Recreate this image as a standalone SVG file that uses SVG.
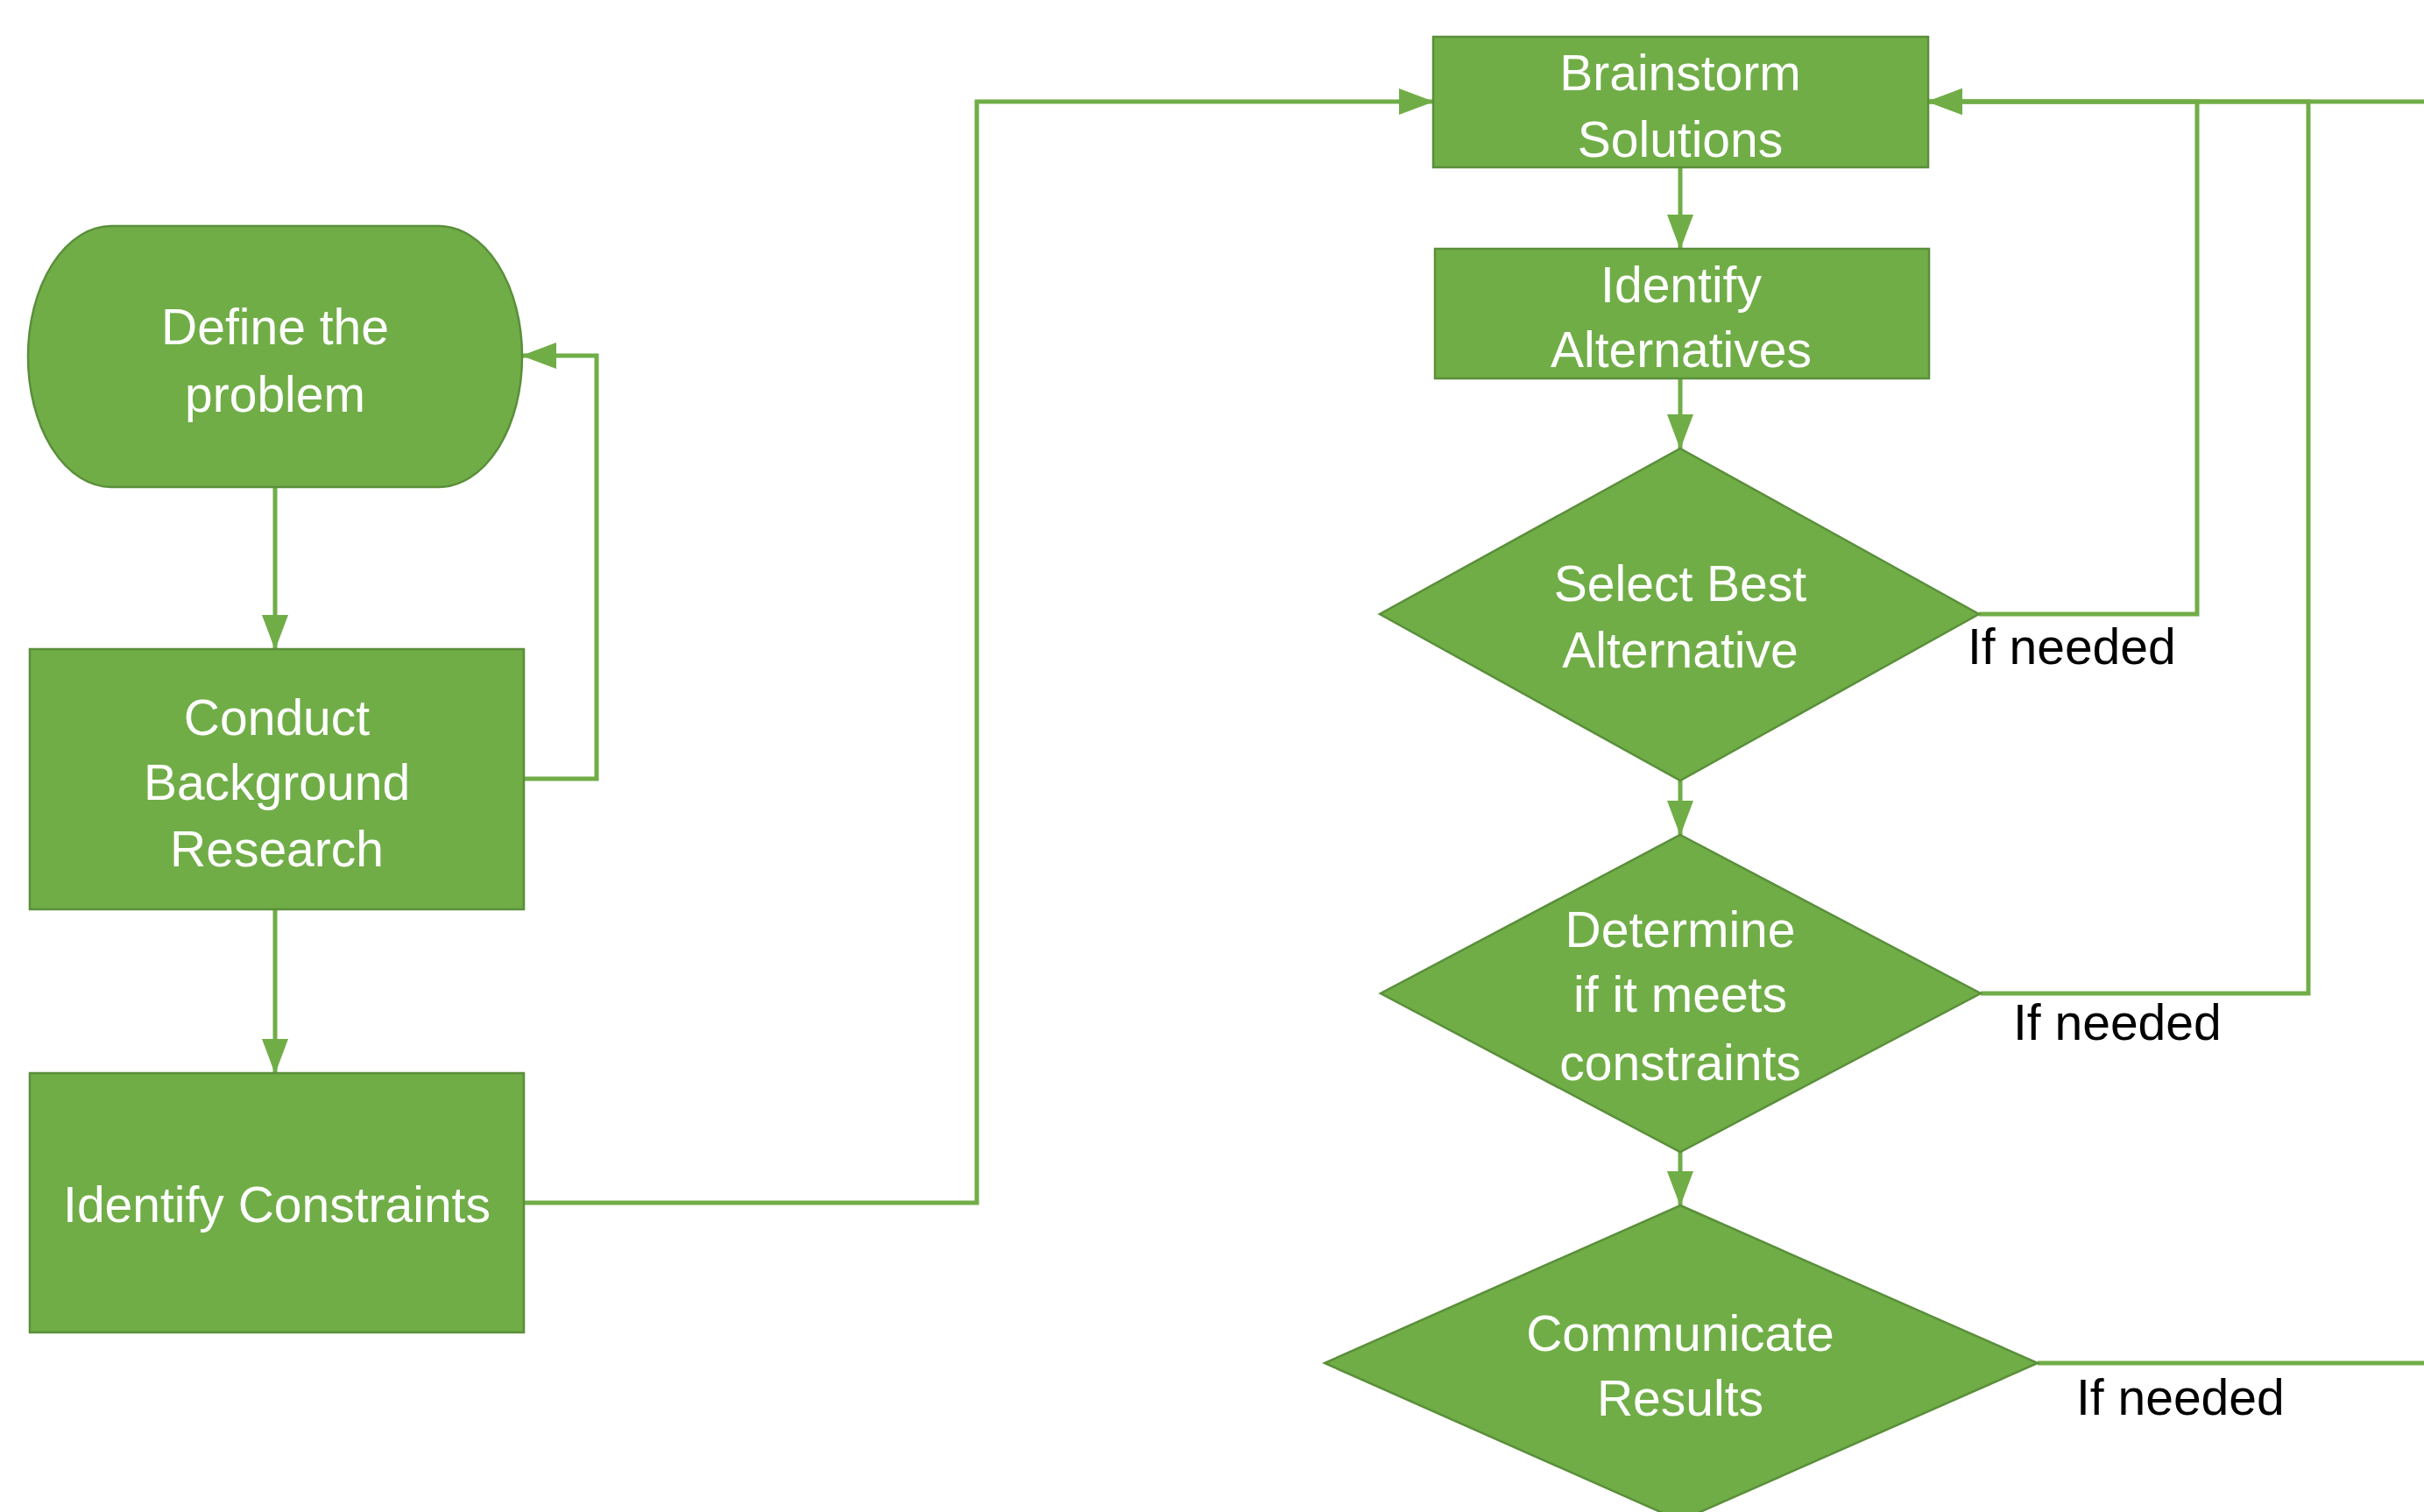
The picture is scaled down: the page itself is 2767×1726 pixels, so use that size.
<svg xmlns="http://www.w3.org/2000/svg" width="2767" height="1726" viewBox="0 0 2767 1726">
<style>
.node{fill:#70AD47;stroke:#5A8F3A;stroke-width:2.5}
.lbl{font-family:"Liberation Sans",Arial,sans-serif;font-size:57px;fill:#FFFFFF;text-anchor:middle}
.cond{font-family:"Liberation Sans",Arial,sans-serif;font-size:57px;fill:#000000;text-anchor:start}
.edge{fill:none;stroke:#70AD47;stroke-width:5}
</style>
<defs>
<marker id="arr" markerUnits="userSpaceOnUse" markerWidth="40" markerHeight="30" refX="39" refY="15" orient="auto">
<path d="M0,0 L40,15 L0,30 Z" fill="#70AD47"/>
</marker>
</defs>
<rect width="2767" height="1726" fill="#FFFFFF"/>
<g id="connectors">
<path class="edge" d="M314,556 V741" marker-end="url(#arr)"/>
<path class="edge" d="M598,889 H681 V406 H596" marker-end="url(#arr)"/>
<path class="edge" d="M314,1038 V1225" marker-end="url(#arr)"/>
<path class="edge" d="M598,1373 H1115 V116 H1636" marker-end="url(#arr)"/>
<path class="edge" d="M1918,191 V284" marker-end="url(#arr)"/>
<path class="edge" d="M1918,432 V512" marker-end="url(#arr)"/>
<path class="edge" d="M1918,891 V953" marker-end="url(#arr)"/>
<path class="edge" d="M1918,1315 V1376" marker-end="url(#arr)"/>
<path class="edge" d="M2259,701 H2508 V116 H2201" marker-end="url(#arr)"/>
<path class="edge" d="M2261,1134 H2635 V116 H2201" marker-end="url(#arr)"/>
<path class="edge" d="M2326,1556 H2800 V116 H2201" marker-end="url(#arr)"/>
<text class="cond" x="2246" y="758">If needed</text>
<text class="cond" x="2298" y="1187">If needed</text>
<text class="cond" x="2370" y="1615">If needed</text>
</g>
<g id="define">
<rect class="node" x="32" y="258" width="564" height="298" rx="95" ry="149"/>
<text class="lbl" x="314" y="393">Define the</text>
<text class="lbl" x="314" y="470">problem</text>
</g>
<g id="research">
<rect class="node" x="34" y="741" width="564" height="297"/>
<text class="lbl" x="316" y="839">Conduct</text>
<text class="lbl" x="316" y="913">Background</text>
<text class="lbl" x="316" y="989">Research</text>
</g>
<g id="constraints">
<rect class="node" x="34" y="1225" width="564" height="296"/>
<text class="lbl" x="316" y="1395">Identify Constraints</text>
</g>
<g id="brainstorm">
<rect class="node" x="1636" y="42" width="565" height="149"/>
<text class="lbl" x="1918" y="103">Brainstorm</text>
<text class="lbl" x="1918" y="179">Solutions</text>
</g>
<g id="alternatives">
<rect class="node" x="1638" y="284" width="564" height="148"/>
<text class="lbl" x="1919" y="345">Identify</text>
<text class="lbl" x="1919" y="419">Alternatives</text>
</g>
<g id="select">
<polygon class="node" points="1918,512 2259,701 1918,891 1575,701"/>
<text class="lbl" x="1918" y="686">Select Best</text>
<text class="lbl" x="1918" y="762">Alternative</text>
</g>
<g id="determine">
<polygon class="node" points="1918,953 2261,1134 1918,1315 1576,1134"/>
<text class="lbl" x="1918" y="1081">Determine</text>
<text class="lbl" x="1918" y="1155">if it meets</text>
<text class="lbl" x="1918" y="1233">constraints</text>
</g>
<g id="communicate">
<polygon class="node" points="1918,1376 2326,1556 1918,1736 1512,1556"/>
<text class="lbl" x="1918" y="1542">Communicate</text>
<text class="lbl" x="1918" y="1616">Results</text>
</g>
</svg>
